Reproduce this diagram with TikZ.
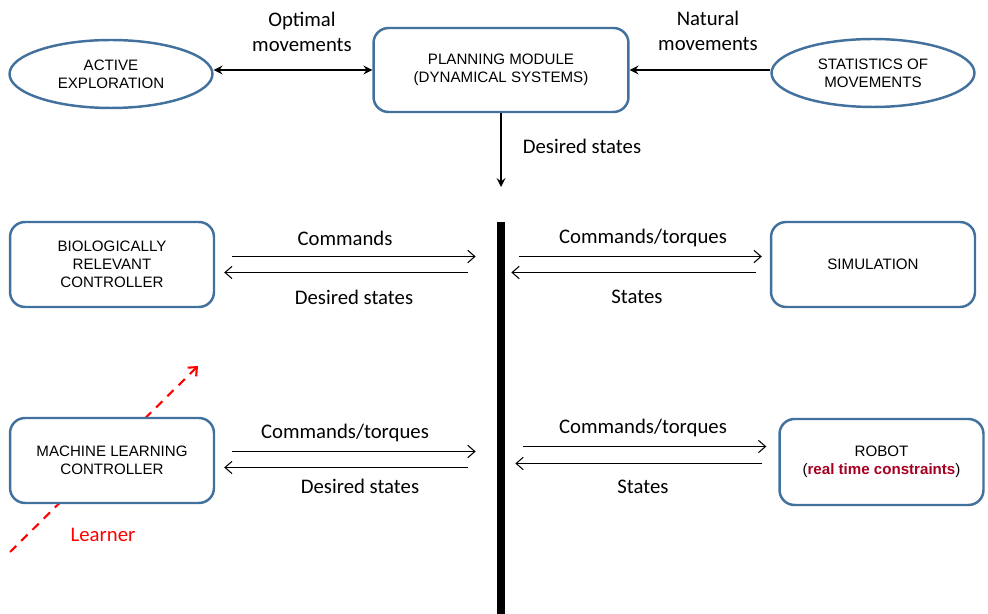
\documentclass[tikz,border=0pt]{standalone}
\usepackage{fontspec}
\setmainfont{Carlito}
\newfontfamily\boxfont{Liberation Sans}
\usetikzlibrary{calc,positioning,shapes.geometric,arrows,arrows.meta}
\definecolor{boxblue}{HTML}{41719C}
\definecolor{darkred}{HTML}{A50021}

\begin{document}
\begin{tikzpicture}[x=0.02cm,y=-0.02cm,font=\fontsize{11.8}{14.2}\selectfont]

\tikzset{bluebox/.style={draw=boxblue,line width=1.4pt,fill=white,rounded corners=0.3cm,minimum width=4.08cm,minimum height=1.7cm,align=center,font=\boxfont\fontsize{8.6}{10.2}\selectfont,text=black},
blueoval/.style={bluebox,shape=ellipse,sharp corners,minimum width=4.06cm,minimum height=1.36cm},
thickarrow/.style={line width=1.2pt,>=stealth},
thinarrow/.style={-{Straight Barb[length=4pt,width=7pt]},line width=0.6pt},
learnarrow/.style={-{Straight Barb[length=4pt,width=7pt]},red,line width=1.2pt,dash pattern=on 5pt off 4pt}}

\useasboundingbox (0,0) rectangle (988,614);

% Learner (behind the boxes)
\coordinate (lrnStart) at (10,552);
\coordinate (lrnEnd) at (198,366);
\draw[learnarrow] (lrnStart) -- (lrnEnd);
\node[red] (lrnLabel) at (103,535) {Learner};

% Top row
\node[blueoval] (act) at (111,74) {ACTIVE\\EXPLORATION};
\node[bluebox,minimum width=5.1cm,minimum height=1.68cm] (plan) at (501,70) {PLANNING MODULE\\(DYNAMICAL SYSTEMS)};
\node[blueoval] (stat) at (873,73) {STATISTICS OF\\MOVEMENTS};

% Controllers
\node[bluebox] (bio) at (112,264.5) {BIOLOGICALLY\\RELEVANT\\CONTROLLER};
\node[bluebox] (ml) at (112,460.5) {MACHINE LEARNING\\CONTROLLER};

% Plants
\node[bluebox] (sim) at (873,264.5) {SIMULATION};
\node[bluebox,minimum height=1.72cm] (robot) at (881.5,462) {ROBOT\\(\textcolor{darkred}{\textbf{real time constraints}})};

% Bus
\node (bar) [fill=black,inner sep=0pt,minimum width=0.16cm,minimum height=7.84cm,anchor=north] at (501,222) {};

% Top edges
\draw[thickarrow,<->] (plan.west -| act.east) -- (plan.west);
\draw[thickarrow,->] (plan.east -| stat.west) -- (plan.east);
\coordinate (dsEnd) at (501,187);
\draw[thickarrow,->] (plan.south) -- (dsEnd);
\node[align=center] (optLabel) at (302,32) {Optimal\\movements};
\node[align=center] (natLabel) at (708,31) {Natural\\movements};
\node (dsLabel) at (582,146) {Desired states};

% Edges left of the bus
\draw[thinarrow] ($(bio.east)+(17,-8)$) -- ($(bio.east -| bar.west)+(-21,-8)$);
\draw[thinarrow] ($(bio.east -| bar.west)+(-29,8)$) -- ($(bio.east)+(9,8)$);
\node (bioCmd) at (345,238) {Commands};
\node (bioDes) at (354,297) {Desired states};

\draw[thinarrow] ($(ml.east)+(17,-9)$) -- ($(ml.east -| bar.west)+(-21,-9)$);
\draw[thinarrow] ($(ml.east -| bar.west)+(-29,7)$) -- ($(ml.east)+(9,7)$);
\node (mlCmd) at (345,433) {Commands/torques};
\node (mlDes) at (360,486) {Desired states};

% Edges right of the bus
\draw[thinarrow] ($(sim.west -| bar.east)+(14,-8)$) -- ($(sim.west)+(-8,-8)$);
\draw[thinarrow] ($(sim.west)+(-14,8)$) -- ($(sim.west -| bar.east)+(6,8)$);
\node (simCmd) at (643,238) {Commands/torques};
\node (simSt) at (637,297) {States};

\draw[thinarrow] ($(robot.west -| bar.east)+(18,-15.5)$) -- ($(robot.west)+(-12,-15.5)$);
\draw[thinarrow] ($(robot.west)+(-16,1.5)$) -- ($(robot.west -| bar.east)+(10,1.5)$);
\node (robCmd) at (643,428) {Commands/torques};
\node (robSt) at (643,487) {States};

\end{tikzpicture}
\end{document}
